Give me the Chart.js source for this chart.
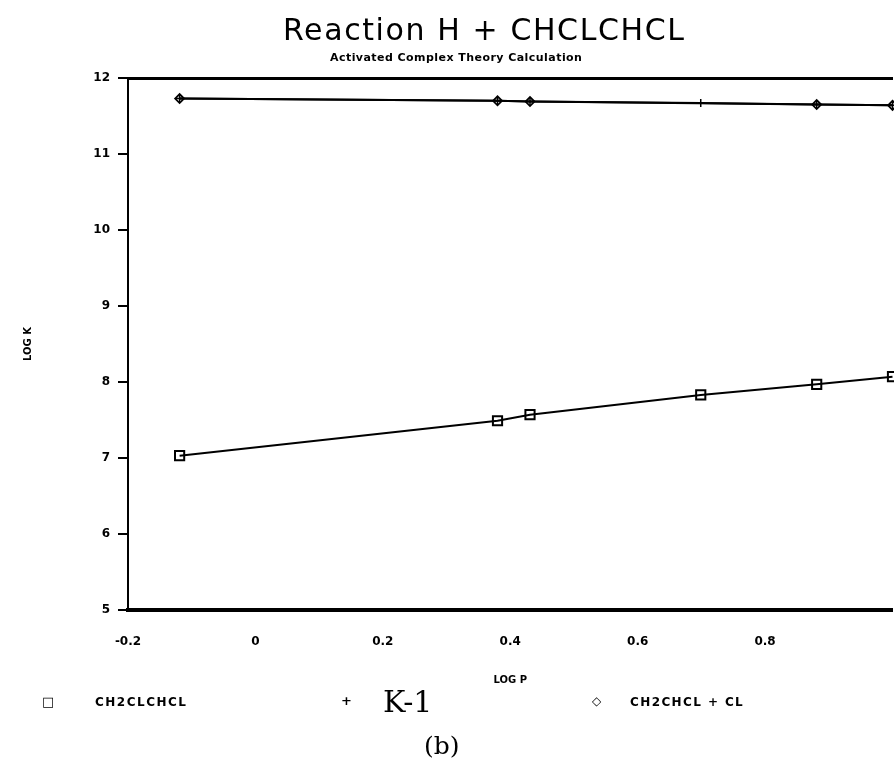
<!DOCTYPE html>
<html>
<head>
<meta charset="utf-8">
<script src="https://cdn.jsdelivr.net/npm/chart.js@4.4.1/dist/chart.umd.min.js"></script>
<style>
  html, body { margin: 0; padding: 0; background: #fff; overflow: hidden; }
  #wrap { position: relative; width: 894px; height: 769px; overflow: hidden; }
  #grafico { position: absolute; left: 0; top: 0; }
  .txt { position: absolute; color: #000; white-space: nowrap; font-family: "DejaVu Sans", sans-serif; }
  .bold { font-weight: bold; }
  .serif { font-family: "DejaVu Serif", "Liberation Serif", serif; }
</style>
</head>
<body>
<div id="wrap">
  <!-- el lienzo es algo mas ancho: el borde derecho queda cortado como en el original -->
  <canvas id="grafico" width="901" height="769"></canvas>

  <div class="txt" style="left:283px; top:12px; font-size:30px; letter-spacing:1.6px;">Reaction H + CHCLCHCL</div>
  <div class="txt bold" style="left:330px; top:51px; font-size:11px; letter-spacing:0.45px;">Activated Complex Theory Calculation</div>

  <div class="txt bold" style="left:42px; top:694px; font-size:13px;">&#9633;</div>
  <div class="txt bold" style="left:95px; top:695px; font-size:12px; letter-spacing:1.5px;">CH2CLCHCL</div>
  <div class="txt bold" style="left:341px; top:693px; font-size:13px;">+</div>
  <div class="txt serif" style="left:383px; top:684px; font-size:30px;">K-1</div>
  <div class="txt bold" style="left:592px; top:694px; font-size:12px;">&#9671;</div>
  <div class="txt bold" style="left:630px; top:695px; font-size:12px; letter-spacing:1.4px;">CH2CHCL + CL</div>

  <div class="txt serif" style="left:424px; top:731px; font-size:25px;">(b)</div>
</div>

<script>
// Valores
const logP = [-0.119, 0.380, 0.431, 0.699, 0.881, 1.0];
const ch2clchcl = [7.03, 7.49, 7.57, 7.83, 7.97, 8.07];
const kMenos1 = [11.73, 11.70, 11.69, 11.67, 11.65, 11.64];
const ch2chclCl = [11.73, 11.70, 11.69, null, 11.65, 11.64];

const xTicks = [-0.2, 0, 0.2, 0.4, 0.6, 0.8, 1.0];
const yTicks = [5, 6, 7, 8, 9, 10, 11, 12];

const puntos = (ys) => logP.map((x, i) => ({ x: x, y: ys[i] }));

const serie = (label, ys, estilo, radio, grosor) => ({
    label: label,
    data: puntos(ys),
    showLine: true,
    spanGaps: true,
    borderColor: '#000',
    backgroundColor: 'rgba(0,0,0,0)',
    pointBackgroundColor: 'rgba(0,0,0,0)',
    borderWidth: 2,
    pointStyle: estilo,
    pointRadius: radio,
    pointBorderWidth: grosor,
    pointBorderColor: '#000',
    clip: false
});

const fuenteTicks = { family: 'DejaVu Sans', size: 12, weight: 'bold' };

// Sin relleno lateral para que el eje llegue hasta el borde
const sinRelleno = (s) => { s.paddingLeft = 0; s.paddingRight = 0; };

new Chart(document.getElementById('grafico'), {
    type: 'scatter',
    data: {
        datasets: [
            serie('CH2CLCHCL', ch2clchcl, 'rect', 6.5, 2),
            serie('K-1', kMenos1, 'cross', 4, 1.5),
            serie('CH2CHCL + CL', ch2chclCl, 'rectRot', 4.5, 1.8)
        ]
    },
    options: {
        responsive: false,
        animation: false,
        layout: { padding: { left: 0, top: 78, right: 1, bottom: 69 } },
        plugins: {
            legend: { display: false },
            title: { display: false },
            tooltip: { enabled: false }
        },
        scales: {
            x: {
                type: 'linear',
                position: 'bottom',
                min: xTicks[0],
                max: xTicks[xTicks.length - 1],
                afterBuildTicks: (s) => { s.ticks = xTicks.map(v => ({ value: v })); },
                afterFit: (s) => { s.height = 90; sinRelleno(s); },
                grid: { display: false, drawTicks: false },
                border: { display: true, color: '#000', width: 4 },
                ticks: {
                    color: '#000',
                    font: fuenteTicks,
                    padding: 25,
                    callback: (v) => v > 0.95 ? '' : String(Math.round(v * 10) / 10)
                },
                title: {
                    display: true,
                    text: 'LOG P',
                    color: '#000',
                    font: { family: 'DejaVu Sans', size: 10, weight: 'bold', lineHeight: 1.2 },
                    padding: { top: 0, bottom: 14 }
                }
            },
            arriba: {
                type: 'linear',
                position: 'top',
                min: xTicks[0],
                max: xTicks[xTicks.length - 1],
                afterFit: (s) => { s.height = 0; sinRelleno(s); },
                grid: { display: false, drawTicks: false },
                border: { display: true, color: '#000', width: 3 },
                ticks: { display: false }
            },
            y: {
                type: 'linear',
                position: 'left',
                min: yTicks[0],
                max: yTicks[yTicks.length - 1],
                afterBuildTicks: (s) => { s.ticks = yTicks.map(v => ({ value: v })); },
                afterFit: (s) => { s.width = 128; },
                grid: {
                    display: true,
                    drawOnChartArea: false,
                    drawTicks: true,
                    tickLength: 10,
                    color: '#000',
                    lineWidth: 2
                },
                border: { display: true, color: '#000', width: 2 },
                ticks: { color: '#000', font: fuenteTicks, padding: 8 },
                title: {
                    display: true,
                    text: 'LOG K',
                    color: '#000',
                    font: { family: 'DejaVu Sans', size: 10, weight: 'bold', lineHeight: 1.2 },
                    padding: { top: 22, bottom: 0 }
                }
            }
        }
    }
});
</script>
</body>
</html>
